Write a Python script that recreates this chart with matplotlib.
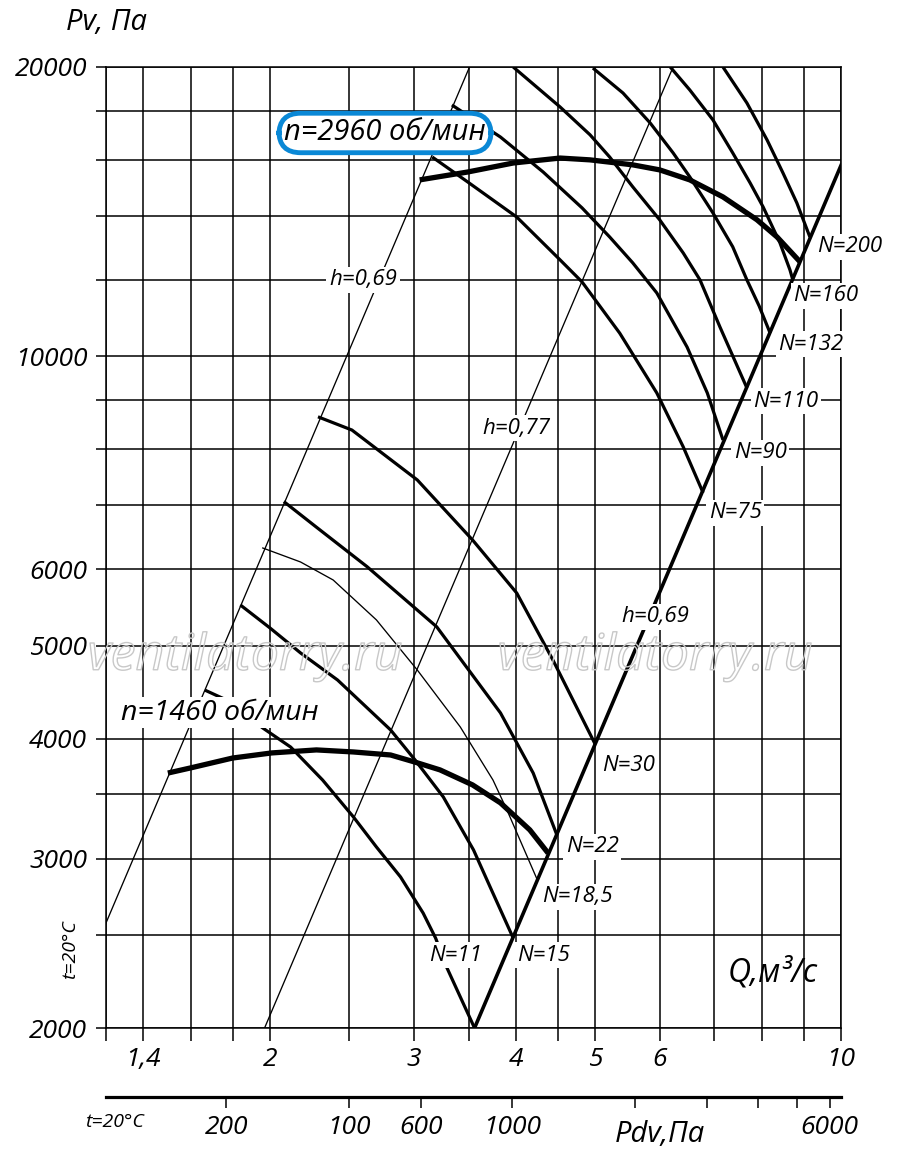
import numpy as np
import matplotlib
matplotlib.use("Agg")
import matplotlib.pyplot as plt
from matplotlib import patheffects
from matplotlib.ticker import NullLocator

plt.rcParams['font.family'] = ['Open Sans', 'DejaVu Sans']
plt.rcParams['font.style'] = 'italic'

# grid / tick values
q_ticks = [1.26, 1.4, 1.6, 1.8, 2, 2.5, 3, 3.5, 4, 4.5, 5, 6, 7, 8, 9, 10]
q_labels = ['', '1,4', '', '', '2', '', '3', '', '4', '', '5', '6', '', '', '', '10']
p_ticks = [2000, 2500, 3000, 3500, 4000, 5000, 6000, 7000, 8000, 9000,
           10000, 12000, 14000, 16000, 18000, 20000]
p_labels = ['2000', '', '3000', '', '4000', '5000', '6000', '', '', '',
            '10000', '', '', '', '', '20000']
pdv_ticks = [200, 400, 600, 1000, 2000, 3000, 4000, 5000, 6000]
pdv_labels = ['200', '100', '600', '1000', '', '', '', '', '6000']

# efficiency lines (P ~ Q^2)
h069_left_q = [1.2, 3.51]
h069_left_p = [2333, 20000]
h077_q = [1.97, 6.23]
h077_p = [2000, 20000]
h069_right_q = [3.56, 10]
h069_right_p = [2000, 15800]

# n = 2960 rpm
n2960_q = [3.05, 3.49, 3.97, 4.53, 4.93, 5.56, 6.00, 6.53, 7.17, 7.89, 8.35, 8.91]
n2960_p = [15260, 15550, 15890, 16080, 16010, 15820, 15630, 15260, 14650, 13870, 13310, 12540]
n75_q = [3.16, 3.49, 4.01, 4.53, 4.82, 5.36, 5.95, 6.41, 6.78]
n75_p = [16120, 15190, 13960, 12600, 11950, 10570, 9160, 8050, 7210]
n90_q = [3.34, 3.83, 4.32, 4.82, 5.21, 5.56, 5.95, 6.48, 6.86, 7.17]
n90_p = [18260, 16910, 15550, 14270, 13310, 12510, 11640, 10225, 9160, 8184]
n110_q = [3.97, 4.53, 4.93, 5.21, 5.56, 6.00, 6.41, 6.72, 7.11, 7.67]
n110_p = [20000, 18175, 17000, 16120, 15010, 13865, 12810, 12010, 10726, 9270]
n132_q = [4.97, 5.41, 5.84, 6.23, 6.53, 6.97, 7.37, 7.67, 7.94, 8.19]
n132_p = [19950, 18790, 17490, 16280, 15370, 14100, 13000, 12010, 11280, 10570]
n160_q = [6.18, 6.53, 6.97, 7.37, 7.74, 8.03, 8.42, 8.66, 8.73]
n160_p = [20000, 18930, 17620, 16280, 15150, 14300, 13120, 12300, 12010]
n200_q = [7.17, 7.67, 8.12, 8.49, 8.83, 9.16]
n200_p = [20000, 18350, 16790, 15520, 14440, 13310]

# n = 1460 rpm
n1460_q = [1.50, 1.60, 1.80, 2.01, 2.28, 2.53, 2.81, 3.01, 3.23, 3.54, 3.83, 4.16, 4.38]
n1460_p = [3684, 3730, 3819, 3866, 3894, 3875, 3847, 3782, 3712, 3581, 3430, 3215, 3041]
n30_q = [2.29, 2.52, 3.03, 3.54, 4.01, 4.44, 5.00]
n30_p = [8650, 8380, 7435, 6440, 5670, 4830, 3950]
n22_q = [2.08, 2.28, 2.63, 3.20, 3.83, 4.20, 4.49]
n22_p = [7060, 6640, 6040, 5230, 4255, 3684, 3176]
n18_q = [1.96, 2.18, 2.39, 2.70, 3.03, 3.42, 3.75, 3.90, 4.25]
n18_p = [6317, 6109, 5851, 5317, 4715, 4114, 3623, 3373, 2851]
n15_q = [1.84, 2.00, 2.18, 2.42, 2.81, 3.01, 3.26, 3.55, 3.72, 3.97]
n15_p = [5511, 5216, 4913, 4604, 4085, 3802, 3479, 3064, 2804, 2481]
n11_q = [1.665, 1.77, 1.96, 2.12, 2.32, 2.53, 2.70, 2.89, 3.08, 3.19, 3.29, 3.56]
n11_p = [4494, 4388, 4104, 3921, 3623, 3317, 3086, 2872, 2634, 2481, 2315, 2000]

PDV_K = 64.0  # Pdv = K * Q^2

fig = plt.figure(figsize=(9, 11.58), dpi=100)
ax = fig.add_axes([106 / 900, 1 - 1028 / 1158, 735 / 900, 961 / 1158])
ax.set_xscale('log')
ax.set_yscale('log')
ax.set_xlim(1.26, 10)
ax.set_ylim(2000, 20000)

ax.set_xticks(q_ticks, q_labels)
ax.set_yticks(p_ticks, p_labels)
ax.xaxis.set_minor_locator(NullLocator())
ax.yaxis.set_minor_locator(NullLocator())
ax.grid(True, color='black', lw=1.1)
ax.tick_params(axis='y', direction='out', length=7.5, width=1.1, pad=6, labelsize=19)
ax.tick_params(axis='x', direction='out', length=9.5, width=1.1, pad=4, labelsize=19)
for s in ax.spines.values():
    s.set_linewidth(1.1)

thin = dict(color='black', lw=0.95, zorder=3, solid_joinstyle='round')
mid = dict(color='black', lw=2.3, zorder=3, solid_capstyle='butt', solid_joinstyle='round')
thick = dict(color='black', lw=3.8, zorder=3, solid_capstyle='butt', solid_joinstyle='round')

ax.plot(h069_left_q, h069_left_p, **thin)
ax.plot(h077_q, h077_p, **thin)
ax.plot(h069_right_q, h069_right_p, color='black', lw=2.6, zorder=3)

for q, p in [(n75_q, n75_p), (n90_q, n90_p), (n110_q, n110_p), (n132_q, n132_p),
             (n160_q, n160_p), (n200_q, n200_p),
             (n30_q, n30_p), (n22_q, n22_p), (n15_q, n15_p), (n11_q, n11_p)]:
    ax.plot(q, p, **mid)
ax.plot(n18_q, n18_p, **thin)
ax.plot(n2960_q, n2960_p, **thick)
ax.plot(n1460_q, n1460_p, **thick)

# labels on the chart
wbox = dict(boxstyle='square,pad=0.12', fc='white', ec='none')
for txt, q, p in [('N=200', 10.25, 12997), ('N=160', 9.58, 11556), ('N=132', 9.19, 10298),
                  ('N=110', 8.56, 8982), ('N=90', 7.96, 7933), ('N=75', 7.42, 6870),
                  ('N=30', 5.49, 3747), ('N=22', 4.96, 3086), ('N=18,5', 4.76, 2738),
                  ('N=15', 4.33, 2382), ('N=11', 3.37, 2382),
                  ('h=0,69', 2.60, 12008), ('h=0,77', 4.00, 8421), ('h=0,69', 5.92, 5356)]:
    ax.text(q, p, txt, ha='center', va='center', fontsize=16, bbox=wbox, zorder=6)

ax.text(2.766, 17076, 'n=2960 об/мин', ha='center', va='center', fontsize=21, zorder=7,
        bbox=dict(boxstyle='round,pad=0.18,rounding_size=0.75', fc='white',
                  ec='#0a88d6', lw=3.5))
ax.text(1.737, 4255, 'n=1460 об/мин', ha='center', va='center', fontsize=20.5, zorder=7,
        bbox=dict(boxstyle='square,pad=0.05', fc='white', ec='none'))
ax.text(0.9075, 0.0572, 'Q,м³/с', transform=ax.transAxes, ha='center', va='center',
        fontsize=23, zorder=7)

# dynamic pressure scale
sec = ax.secondary_xaxis(-0.0718, functions=(lambda q: PDV_K * q ** 2,
                                             lambda p: np.sqrt(np.maximum(p, 1e-9) / PDV_K)))
sec.set_xticks(pdv_ticks, pdv_labels)
sec.xaxis.set_minor_locator(NullLocator())
sec.spines['bottom'].set_linewidth(2.3)
sec.tick_params(axis='x', direction='out', length=8, width=1.1, pad=5, labelsize=19)

fig.text(107 / 900, 1 - 22 / 1158, 'Pv, Па', ha='center', va='center', fontsize=21)
fig.text(660 / 900, 1 - 1135 / 1158, 'Pdv,Па', ha='center', va='center', fontsize=21)
fig.text(70 / 900, 1 - 950 / 1158, 't=20°C', ha='center', va='center', fontsize=14,
         rotation=90)
fig.text(115 / 900, 1 - 1122 / 1158, 't=20°C', ha='center', va='center', fontsize=14)

# watermark
for xc in (245, 655):
    fig.text(xc / 900, 1 - 657 / 1158, 'ventilatorry.ru', ha='center', va='center',
             fontsize=36, color=(1, 1, 1, 0), zorder=2,
             path_effects=[patheffects.Stroke(linewidth=1.0, foreground='#c8c8c8')])

fig.savefig('out.png', dpi=100)
